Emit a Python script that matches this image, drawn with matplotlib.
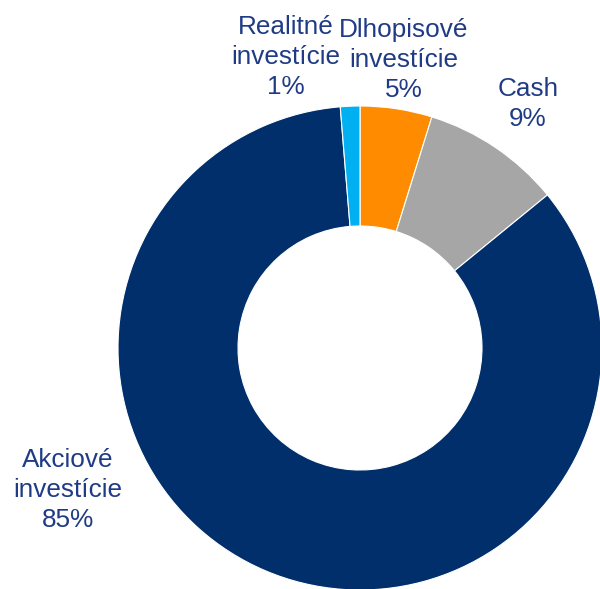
import matplotlib
matplotlib.use("Agg")
import matplotlib.pyplot as plt

categories = ["Dlhopisové\ninvestície", "Cash", "Akciové\ninvestície", "Realitné\ninvestície"]
values = [4.8, 9.3, 84.6, 1.3]
pct_labels = ["5%", "9%", "85%", "1%"]
colors = ["#FF8C00", "#A6A6A6", "#002F6C", "#00B0F0"]

fig = plt.figure(figsize=(6.0, 5.89), dpi=100)
ax = fig.add_axes([0, 0, 1, 1])
ax.set_xlim(0, 600)
ax.set_ylim(0, 589)
ax.set_aspect("equal")
ax.axis("off")

ax.pie(values, colors=colors, startangle=90, counterclock=False,
       center=(360, 241), radius=242,
       wedgeprops=dict(width=120, edgecolor="white", linewidth=0.8))
ax.set_xlim(0, 600)
ax.set_ylim(0, 589)

label_pos = [(404, 589 - 60), (528, 589 - 104), (68, 589 - 490), (286, 589 - 57)]
txtcolor = "#1F3B85"
for cat, p, (x, y) in zip(categories, pct_labels, label_pos):
    ax.text(x, y, f"{cat}\n{p}", ha="center", va="center", fontsize=18.8,
            family="Liberation Sans", color=txtcolor, linespacing=1.32)

fig.savefig("out.png", dpi=100)
